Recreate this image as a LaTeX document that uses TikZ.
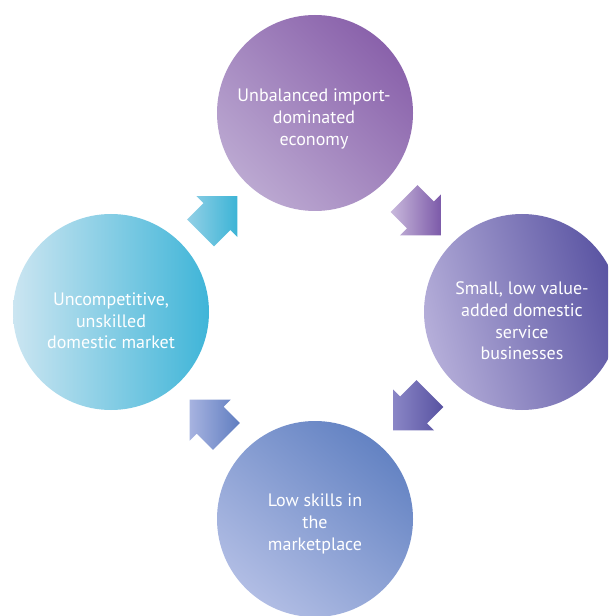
\documentclass[tikz,border=0pt]{standalone}
\usepackage{fontspec}
\setmainfont{PT Sans}
\usetikzlibrary{calc}
\definecolor{topA}{HTML}{BBA8D1}
\definecolor{topB}{HTML}{8A62AB}
\definecolor{rgtA}{HTML}{B5AED9}
\definecolor{rgtB}{HTML}{5953A2}
\definecolor{botA}{HTML}{B1BDE4}
\definecolor{botB}{HTML}{6483C3}
\definecolor{lftA}{HTML}{CBE5F1}
\definecolor{lftB}{HTML}{3FB5D8}
\definecolor{arA}{HTML}{93D0E6}
\definecolor{arB}{HTML}{3CB4D6}
\definecolor{arC}{HTML}{C9B9DC}
\definecolor{arD}{HTML}{7C5AA9}
\definecolor{arE}{HTML}{8A86C6}
\definecolor{arF}{HTML}{5852A1}
\definecolor{arG}{HTML}{A7B3E0}
\definecolor{arH}{HTML}{5F7DC0}
\tikzset{
  bubble/.style={circle, minimum size=147pt, inner sep=0pt},
  bubbletext/.style={text=white, align=center, inner sep=0pt,
    font=\fontsize{13.5}{16.3}\selectfont},
}
\newcommand{\blockarr}[4]{%
  \begin{scope}[shift={#1}, rotate=#2]
    \shade[left color=#3, right color=#4]
      (-26,-19) -- (-3,-19) -- (-3,-29) -- (26,0) -- (-3,29) -- (-3,19) -- (-26,19) -- cycle;
  \end{scope}}
\begin{document}
\begin{tikzpicture}[x=0.75pt,y=-0.75pt]
\useasboundingbox (0,0) rectangle (608,616);
\clip (0,0) rectangle (608,616);
\node[bubble, top color=topB, bottom color=topA, shading angle=-45] (T) at (315,113) {};
\node[bubble, top color=rgtB, bottom color=rgtA, shading angle=-75] (R) at (522,312) {};
\node[bubble, top color=botB, bottom color=botA, shading angle=-40] (B) at (315,519) {};
\node[bubble, left color=lftA, right color=lftB] (L) at (111,312) {};
\node[bubbletext] (Tt) at (314,119) {Unbalanced import-\\dominated\\economy};
\node[bubbletext] (Rt) at (522,321) {Small, low value-\\added domestic\\service\\businesses};
\node[bubbletext] (Bt) at (315,524) {Low skills in\\the\\marketplace};
\node[bubbletext] (Lt) at (111,321) {Uncompetitive,\\unskilled\\domestic market};
\blockarr{($(L)!0.5!(T)+(6,2)$)}{45}{arA}{arB}
\blockarr{($(T)!0.5!(R)+(4,4.5)$)}{-45}{arC}{arD}
\blockarr{($(R)!0.5!(B)+(-7,-3.5)$)}{-135}{arE}{arF}
\blockarr{($(B)!0.5!(L)+(-5,2.5)$)}{135}{arG}{arH}
\end{tikzpicture}
\end{document}
